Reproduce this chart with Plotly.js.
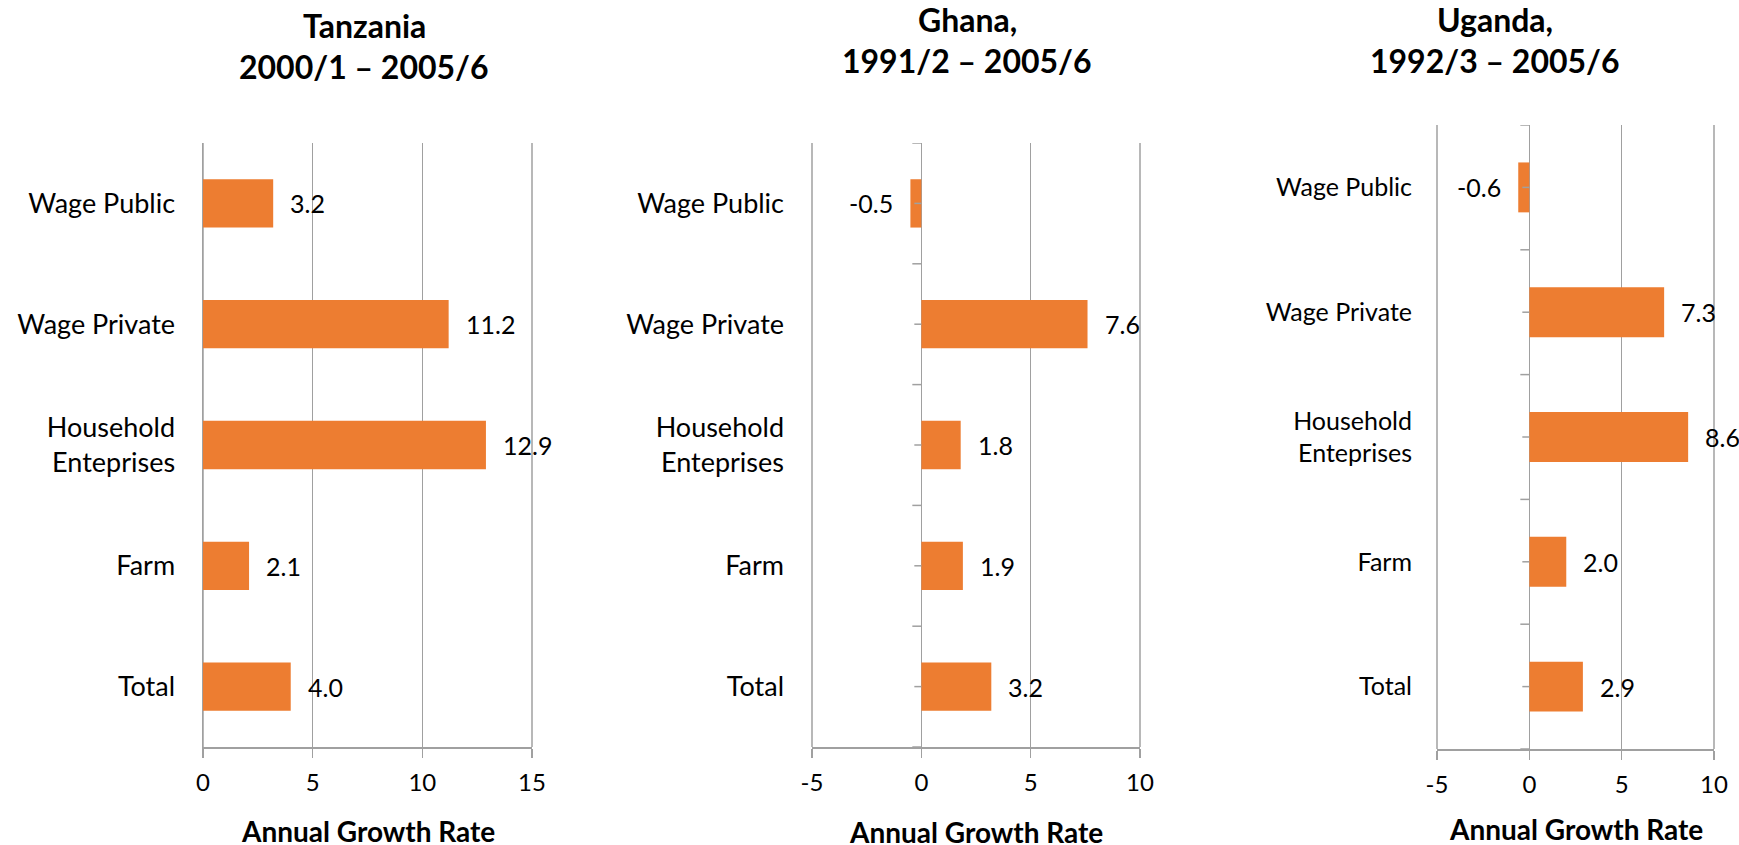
<!DOCTYPE html>
<html><head><meta charset="utf-8">
<script src="https://cdn.plot.ly/plotly-3.0.1.min.js"></script>
<style>html,body{margin:0;padding:0;background:#fff;}</style>
</head><body><div id="chart" style="width:1739px;height:845px;"></div>
<script>
// ---- data ----
const categories = ['Wage Public', 'Wage Private', 'Household<br>Enteprises', 'Farm', 'Total'];
const tanzaniaValues = [3.2, 11.2, 12.9, 2.1, 4.0];
const ghanaValues = [-0.5, 7.6, 1.8, 1.9, 3.2];
const ugandaValues = [-0.6, 7.3, 8.6, 2.0, 2.9];
const titleLine1 = ['Tanzania', 'Ghana,', 'Uganda,'];
const titleLine2 = ['2000/1 – 2005/6', '1991/2 – 2005/6', '1992/3 – 2005/6'];
const axisTitle = 'Annual Growth Rate';
const xRanges = [[0, 15], [-5, 10], [-5, 10]];
const xTickVals = [[0, 5, 10, 15], [-5, 0, 5, 10], [-5, 0, 5, 10]];
const xTickText = [['0', '5', '10', '15'], ['-5', '0', '5', '10'], ['-5', '0', '5', '10']];

// ---- layout geometry (pixels) ----
const W = 1739, H = 845;
const panels = [
  {x0: 203, x1: 532, y0: 143, y1: 747, tx: 364, t1: 25, t2: 67, at: 831, centerTicks: false, catSize: 27, standoff: 21},
  {x0: 812, x1: 1140, y0: 143, y1: 747, tx: 967, t1: 19, t2: 61, at: 832, centerTicks: true, catSize: 27, standoff: 27},
  {x0: 1437, x1: 1714, y0: 125, y1: 749, tx: 1495, t1: 19, t2: 61, at: 829, centerTicks: true, catSize: 25, standoff: 24}
];
const seriesValues = [tanzaniaValues, ghanaValues, ugandaValues];

const ORANGE = '#ED7D31';
const GRAY = '#A0A0A0';
const FONT = 'Lato, "Open Sans", sans-serif';

const traces = [];
const layout = {
  width: W, height: H,
  margin: {l: 0, r: 0, t: 0, b: 0},
  paper_bgcolor: '#fff', plot_bgcolor: '#fff',
  showlegend: false,
  bargap: 0.6,
  font: {family: FONT, color: '#000'},
  annotations: [],
  shapes: []
};

panels.forEach((p, k) => {
  const sfx = k === 0 ? '' : String(k + 1);
  const xa = 'x' + sfx, ya = 'y' + sfx;
  const vals = seriesValues[k];
  traces.push({
    type: 'bar', orientation: 'h',
    x: vals, y: categories,
    xaxis: xa, yaxis: ya,
    marker: {color: ORANGE, line: {width: 0}},
    hoverinfo: 'x+y'
  });
  layout['xaxis' + sfx] = {
    domain: [p.x0 / W, p.x1 / W], anchor: ya,
    range: xRanges[k],
    tickmode: 'array', tickvals: xTickVals[k], ticktext: xTickText[k],
    showgrid: true, gridcolor: GRAY, gridwidth: 1.5,
    zeroline: k !== 0, zerolinecolor: GRAY, zerolinewidth: 1.5,
    showline: true, linecolor: GRAY, linewidth: 1.5,
    ticks: 'outside', ticklen: 9, tickcolor: GRAY, tickwidth: 1.5,
    tickfont: {size: 24, family: FONT, color: '#000'},
    ticklabelstandoff: 5,
    fixedrange: true
  };
  layout['yaxis' + sfx] = {
    domain: [1 - p.y1 / H, 1 - p.y0 / H], anchor: xa,
    type: 'category', categoryorder: 'array', categoryarray: categories,
    range: [categories.length - 0.5, -0.5],
    showgrid: false, zeroline: false,
    showline: k === 0, linecolor: GRAY, linewidth: 1.5,
    ticks: '',
    tickfont: {size: p.catSize, family: FONT, color: '#000'},
    ticklabelstandoff: p.standoff,
    fixedrange: true
  };
  // grid lines at the left/right edges of the plot area
  [0, 1].forEach(edge => {
    layout.shapes.push({
      type: 'line', xref: xa + ' domain', yref: ya + ' domain',
      x0: edge, x1: edge, y0: 0, y1: 1, layer: 'below',
      line: {color: GRAY, width: 1.5}
    });
  });
  // category-axis tick marks drawn at x = 0 (boundaries, and centres for panels 2-3)
  for (let i = 0; i <= categories.length; i++) {
    layout.shapes.push({
      type: 'line', xref: xa, yref: ya, xsizemode: 'pixel', xanchor: 0,
      x0: -9, x1: 0, y0: i - 0.5, y1: i - 0.5,
      line: {color: GRAY, width: 1.5}
    });
  }
  if (p.centerTicks) {
    categories.forEach((c, i) => {
      layout.shapes.push({
        type: 'line', xref: xa, yref: ya, xsizemode: 'pixel', xanchor: 0,
        x0: -7, x1: 0, y0: i, y1: i,
        line: {color: GRAY, width: 1.5}
      });
    });
  }
  // value labels
  vals.forEach((v, i) => {
    layout.annotations.push({
      xref: xa, yref: ya, x: v, y: categories[i],
      text: v.toFixed(1), showarrow: false,
      xanchor: v >= 0 ? 'left' : 'right', yanchor: 'middle',
      xshift: v >= 0 ? 15 : -15,
      font: {size: 25, family: FONT, color: '#000'}
    });
  });
  // panel titles
  layout.annotations.push({
    xref: 'paper', yref: 'paper', x: p.tx / W, y: 1 - p.t1 / H,
    text: '<b>' + titleLine1[k] + '</b>', showarrow: false,
    xanchor: 'center', yanchor: 'middle',
    font: {size: 32, family: FONT, color: '#000'}
  });
  layout.annotations.push({
    xref: 'paper', yref: 'paper', x: p.tx / W, y: 1 - p.t2 / H,
    text: '<b>' + titleLine2[k] + '</b>', showarrow: false,
    xanchor: 'center', yanchor: 'middle',
    font: {size: 32, family: FONT, color: '#000'}
  });
  // axis title
  layout.annotations.push({
    xref: 'paper', yref: 'paper', x: (p.x0 + p.x1) / 2 / W, y: 1 - p.at / H,
    text: '<b>' + axisTitle + '</b>', showarrow: false,
    xanchor: 'center', yanchor: 'middle',
    font: {size: 28, family: FONT, color: '#000'}
  });
});

Plotly.newPlot('chart', traces, layout, {displayModeBar: false, staticPlot: true});
</script>
</body></html>
